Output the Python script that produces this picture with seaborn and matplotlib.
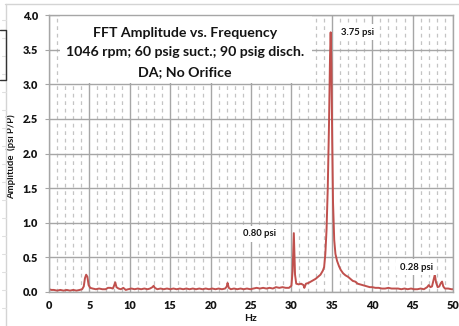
import numpy as np
import pandas as pd
import matplotlib
matplotlib.use("Agg")
import matplotlib.pyplot as plt
from matplotlib.patches import Rectangle
from matplotlib.lines import Line2D
import seaborn as sns

# ---- data ----
freq_hz = [0.0, 0.3, 0.6, 1.0, 1.4, 1.8, 2.2, 2.6, 3.0, 3.4, 3.8, 4.1, 4.3, 4.45, 4.6, 4.75, 4.9,
           5.1, 5.4, 5.8, 6.2, 6.6, 7.0, 7.3, 7.6, 7.9, 8.05, 8.2, 8.35, 8.6, 8.9, 9.2, 9.5, 9.8,
           10.2, 10.6, 11.0, 11.4, 11.8, 12.2, 12.5, 12.8, 12.95, 13.1, 13.4, 13.8, 14.2, 14.6,
           15.0, 15.4, 15.8, 16.2, 16.6, 17.0, 17.4, 17.8, 18.2, 18.6, 19.0, 19.4, 19.8,
           20.2, 20.6, 21.0, 21.4, 21.8, 22.0, 22.1, 22.25, 22.5, 22.9, 23.3, 23.7, 24.1, 24.5, 24.9,
           25.3, 25.7, 26.1, 26.5, 26.9, 27.3, 27.7, 28.1, 28.5, 28.9, 29.3, 29.7,
           30.0, 30.15, 30.3, 30.45, 30.6, 30.9, 31.2, 31.5, 31.6, 31.8, 32.1, 32.4, 32.7,
           33.0, 33.3, 33.6, 33.9, 34.05, 34.2, 34.35, 34.5, 34.65, 34.78, 34.86, 34.95,
           35.05, 35.15, 35.3, 35.45, 35.65, 35.9, 36.1, 36.4, 36.7, 37.0, 37.3, 37.6, 37.9,
           38.2, 38.5, 38.8, 39.1, 39.4, 39.7, 40.0, 40.4, 40.8, 41.2, 41.6, 42.0, 42.4, 42.8,
           43.2, 43.6, 44.0, 44.4, 44.8, 45.2, 45.6, 46.0, 46.4, 46.8, 47.0, 47.2, 47.4, 47.6,
           47.75, 47.9, 48.1, 48.3, 48.5, 48.65, 48.8, 49.0, 49.4, 49.8, 50.0]
amp_psi = [0.04, 0.03, 0.03, 0.02, 0.03, 0.02, 0.03, 0.02, 0.03, 0.02, 0.03, 0.04, 0.08, 0.20, 0.25, 0.22, 0.10,
           0.06, 0.05, 0.04, 0.05, 0.04, 0.04, 0.06, 0.06, 0.05, 0.09, 0.14, 0.07, 0.05, 0.04, 0.06, 0.03, 0.04,
           0.05, 0.04, 0.05, 0.04, 0.05, 0.04, 0.05, 0.07, 0.09, 0.06, 0.04, 0.05, 0.04, 0.05,
           0.04, 0.05, 0.04, 0.05, 0.04, 0.05, 0.04, 0.05, 0.04, 0.05, 0.04, 0.05, 0.04,
           0.05, 0.04, 0.05, 0.04, 0.05, 0.08, 0.13, 0.06, 0.04, 0.05, 0.04, 0.05, 0.04, 0.05, 0.04,
           0.05, 0.06, 0.05, 0.06, 0.05, 0.06, 0.05, 0.07, 0.06, 0.07, 0.06, 0.06,
           0.09, 0.30, 0.85, 0.25, 0.12, 0.11, 0.12, 0.10, 0.06, 0.12, 0.13, 0.15, 0.17,
           0.19, 0.22, 0.25, 0.31, 0.36, 0.55, 0.90, 1.50, 2.40, 3.40, 3.75, 3.30,
           2.20, 1.30, 0.75, 0.55, 0.45, 0.37, 0.32, 0.27, 0.24, 0.22, 0.19, 0.16, 0.15,
           0.12, 0.11, 0.10, 0.09, 0.08, 0.07, 0.07, 0.06, 0.06, 0.05, 0.05, 0.06, 0.05, 0.05,
           0.05, 0.04, 0.05, 0.04, 0.05, 0.04, 0.04, 0.05, 0.04, 0.07, 0.10, 0.07, 0.08, 0.18,
           0.25, 0.14, 0.07, 0.08, 0.13, 0.15, 0.08, 0.05, 0.05, 0.04, 0.04]

title_lines = ["FFT Amplitude vs. Frequency",
               "1046 rpm; 60 psig suct.; 90 psig disch.",
               "DA; No Orifice"]
peak_labels = ["3.75 psi", "0.80 psi", "0.28 psi"]
x_ticks = [0, 5, 10, 15, 20, 25, 30, 35, 40, 45, 50]
y_ticks = [0.0, 0.5, 1.0, 1.5, 2.0, 2.5, 3.0, 3.5, 4.0]

df = pd.DataFrame({"Hz": freq_hz, "Amp": amp_psi})

sns.set_style("white")
plt.rcParams["font.family"] = ["Lato", "DejaVu Sans"]

W, H = 459, 326
fig = plt.figure(figsize=(W / 100, H / 100), dpi=100)
ax = fig.add_axes([49 / W, (H - 292) / H, 404 / W, 277 / H])

grid_major = "#a6a6a6"
grid_minor = "#c4c4c4"

ax.set_axisbelow(True)
for xv in np.arange(0, 51, 1):
    if xv % 5 == 0:
        continue
    ax.axvline(xv, color=grid_minor, lw=0.9, ls=(0, (3, 3)), zorder=0.5)
ax.set_xticks(x_ticks)
ax.set_yticks(y_ticks)
ax.grid(True, which="major", color=grid_major, lw=1.0, zorder=0.6)

# title box
ax.add_patch(Rectangle((0.027, 0.755), 0.624, 0.245, transform=ax.transAxes,
                       facecolor="white", edgecolor="none", zorder=1))
ys = [0.934, 0.865, 0.793]
for t, yv in zip(title_lines, ys):
    ax.text(0.337, yv, t, transform=ax.transAxes, ha="center", va="center",
            fontsize=10.2, fontweight="bold", color="#141414", zorder=3)

sns.lineplot(data=df, x="Hz", y="Amp", ax=ax, color="#c0504d", lw=1.4, zorder=2)

ax.set_xlim(0, 50)
ax.set_ylim(0, 4.0)
ax.set_xticklabels([str(v) for v in x_ticks])
ax.set_yticklabels([f"{v:.1f}" for v in y_ticks])
for lab in ax.get_xticklabels() + ax.get_yticklabels():
    lab.set_fontweight("heavy")
    lab.set_fontsize(7.8)
    lab.set_color("#141414")
ax.tick_params(axis="x", length=0, pad=6)
ax.tick_params(axis="y", length=3, width=0.8, color=grid_major, pad=5, left=True)

ax.set_xlabel("Hz", fontsize=7.5, fontweight="bold", color="#141414")
ax.xaxis.label.set_va("center")
ax.xaxis.set_label_coords(0.5, -0.097)
ax.set_ylabel("Amplitude  (psi P/P)", fontsize=6.8, fontweight="bold", color="#141414")
ax.yaxis.set_label_coords(-0.082, 0.49)

for s in ax.spines.values():
    s.set_color(grid_major)
    s.set_linewidth(1.0)
    s.set_visible(True)

# peak annotations
bbox = dict(facecolor="white", edgecolor="none", pad=2.5)
ax.text(36.2, 3.75, peak_labels[0], fontsize=6.8, fontweight="bold", color="#141414",
        ha="left", va="center", zorder=3, bbox=bbox)
ax.text(28.1, 0.84, peak_labels[1], fontsize=6.8, fontweight="bold", color="#141414",
        ha="right", va="center", zorder=3, bbox=bbox)
ax.text(43.4, 0.36, peak_labels[2], fontsize=6.8, fontweight="bold", color="#141414",
        ha="left", va="center", zorder=3, bbox=bbox)

# outer frame artifacts of the original screenshot
fig.add_artist(Line2D([5 / W, 1], [1 - 4 / H, 1 - 4 / H], color="#d4d4d4", lw=1.0))
fig.add_artist(Line2D([6 / W, 6 / W], [0, 1 - 4 / H], color="#d4d4d4", lw=1.0))
for yy in range(20, 326, 18):
    fig.add_artist(Line2D([2 / W, 6 / W], [1 - yy / H, 1 - yy / H], color="#e0e0e0", lw=0.8))
fig.add_artist(Line2D([0, 6 / W, 6 / W, 0], [1 - 30 / H, 1 - 30 / H, 1 - 80 / H, 1 - 80 / H],
                      color="#333333", lw=1.0))

fig.savefig("out.png", dpi=100, facecolor="white")
